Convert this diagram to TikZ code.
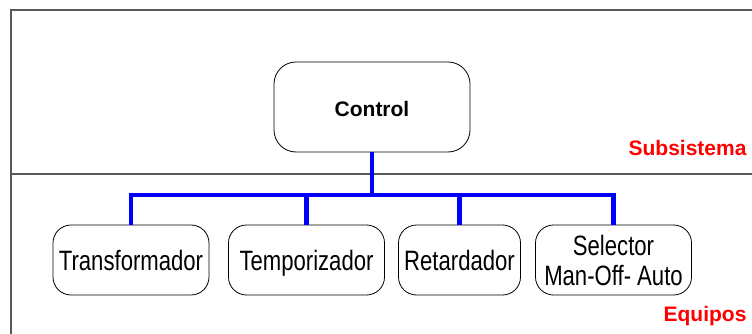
\documentclass[tikz,border=0pt]{standalone}
\usepackage{fontspec}
\setmainfont{Liberation Sans}
\newfontfamily\narrowfont[FakeStretch=0.79]{Liberation Sans}
\usetikzlibrary{positioning}

\tikzset{
    unit/.style={draw, line width=0.8pt, rounded corners=18pt, minimum height=70pt,
        align=center, inner sep=2pt, text height=20pt, text depth=0pt,
        font=\narrowfont\fontsize{28}{30}\selectfont},
    bus/.style={blue, line width=4.5pt},
    frame/.style={gray!70!black, line width=1.2pt},
    level/.style={red, anchor=base east, font=\fontsize{21}{25}\selectfont\bfseries},
}

\begin{document}
\begin{tikzpicture}[x=1pt,y=-1pt]
    \useasboundingbox (0,0) rectangle (752,334);

    \coordinate (TL) at (11,10);
    \coordinate (TR) at (752,10);
    \coordinate (BL) at (11,334);
    \coordinate (ML) at (11,174);
    \coordinate (MR) at (752,174);

    % frame and level separator
    \draw[frame] (TR) -- (TL) -- (BL);
    \draw[frame] (ML) -- (MR);

    \node[unit, minimum width=196pt, minimum height=90pt, rounded corners=22pt,
        font=\fontsize{21}{25}\selectfont\bfseries] (ctrl) at (372,107) {Control};

    \node[unit, minimum width=156pt] (trafo) at (131,260) {Transformador};
    \node[unit, minimum width=156pt] (tempo) at (306.5,260) {Temporizador};
    \node[unit, minimum width=122pt] (retar) at (459.5,260) {Retardador};
    \node[unit, minimum width=156pt, text height=50pt] (sel) at (613.5,260) {Selector\\Man-Off- Auto};

    \coordinate (bus) at (372,195);

    \draw[bus] (ctrl.south) -- (bus);
    \draw[bus] (trafo.north) |- (bus) -| (sel.north);
    \foreach \n in {tempo,retar}
        \draw[bus] (\n.north) -- (\n.north |- bus);

    \node[level] (sub) at (750,155) {Subsistema};
    \node[level] (eq) at (750,321) {Equipos};
\end{tikzpicture}
\end{document}
